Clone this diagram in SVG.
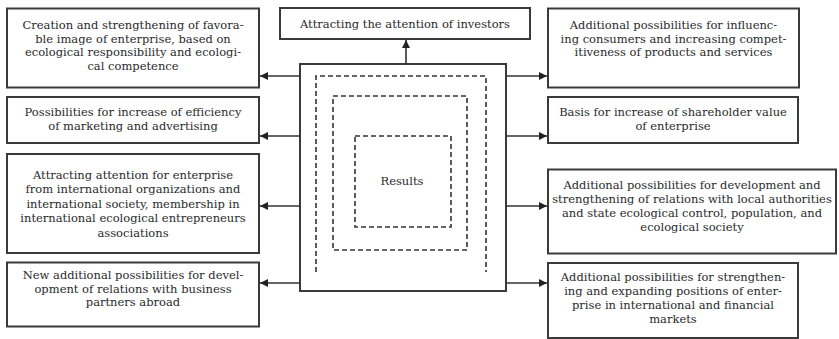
<svg xmlns="http://www.w3.org/2000/svg" width="839" height="339" viewBox="0 0 839 339">
<style>
.box{fill:#fff;stroke:#3a3a3a;stroke-width:2}
.dash{fill:none;stroke:#333;stroke-width:1.6;stroke-dasharray:5,3}
.ln{stroke:#333;stroke-width:1.6;fill:none}
text{font-family:"DejaVu Serif","Liberation Serif",serif;font-size:11.5px;fill:#2a2a2a;text-anchor:middle}
</style>
<defs>
<marker id="ah" viewBox="0 0 10 10" refX="10" refY="5" markerWidth="9" markerHeight="8" markerUnits="userSpaceOnUse" orient="auto">
<path d="M0,0 L10,5 L0,10 Z" fill="#222"/>
</marker>
</defs>
<rect width="839" height="339" fill="#fff"/>
<g id="center">
<rect class="box" x="300" y="64" width="206" height="227"/>
<path class="dash" d="M316,272 V76 H486 V272"/>
<rect class="dash" x="333" y="96" width="134" height="154"/>
<rect class="dash" x="355" y="136" width="96" height="91"/>
<text x="402" y="185">Results</text>
</g>
<g id="top">
<rect class="box" x="280" y="8" width="250" height="31"/>
<text x="405" y="28">Attracting the attention of investors</text>
</g>
<g id="left1">
<rect class="box" x="7" y="8.5" width="252" height="79"/>
<text x="133" y="29">Creation and strengthening of favora-</text>
<text x="133" y="42.5">ble image of enterprise, based on</text>
<text x="133" y="56">ecological responsibility and ecologi-</text>
<text x="133" y="69.5">cal competence</text>
</g>
<g id="left2">
<rect class="box" x="7" y="97" width="252" height="46"/>
<text x="133" y="115.5">Possibilities for increase of efficiency</text>
<text x="133" y="129.5">of marketing and advertising</text>
</g>
<g id="left3">
<rect class="box" x="7" y="154" width="252" height="99"/>
<text x="133" y="178.5">Attracting attention for enterprise</text>
<text x="133" y="193">from international organizations and</text>
<text x="133" y="207.5">international society, membership in</text>
<text x="133" y="222">international ecological entrepreneurs</text>
<text x="133" y="236.5">associations</text>
</g>
<g id="left4">
<rect class="box" x="7" y="262.5" width="252" height="64"/>
<text x="133" y="279">New additional possibilities for devel-</text>
<text x="133" y="292.5">opment of relations with business</text>
<text x="133" y="306">partners abroad</text>
</g>
<g id="right1">
<rect class="box" x="548" y="8.5" width="251" height="79"/>
<text x="673.5" y="29">Additional possibilities for influenc-</text>
<text x="673.5" y="42.5">ing consumers and increasing compet-</text>
<text x="673.5" y="56">itiveness of products and services</text>
</g>
<g id="right2">
<rect class="box" x="548" y="97" width="250" height="46"/>
<text x="673" y="115.5">Basis for increase of shareholder value</text>
<text x="673" y="129.5">of enterprise</text>
</g>
<g id="right3">
<rect class="box" x="548" y="169.5" width="288" height="84"/>
<text x="692" y="189">Additional possibilities for development and</text>
<text x="692" y="203">strengthening of relations with local authorities</text>
<text x="692" y="217">and state ecological control, population, and</text>
<text x="692" y="231">ecological society</text>
</g>
<g id="right4">
<rect class="box" x="548" y="263" width="250" height="75"/>
<text x="673" y="281">Additional possibilities for strengthen-</text>
<text x="673" y="295">ing and expanding positions of enter-</text>
<text x="673" y="309">prise in international and financial</text>
<text x="673" y="323">markets</text>
</g>
<g id="connectors">
<line class="ln" x1="406" y1="64" x2="406" y2="40" marker-end="url(#ah)"/>
<line class="ln" x1="300" y1="76" x2="260" y2="76" marker-end="url(#ah)"/>
<line class="ln" x1="300" y1="136" x2="260" y2="136" marker-end="url(#ah)"/>
<line class="ln" x1="300" y1="206" x2="260" y2="206" marker-end="url(#ah)"/>
<line class="ln" x1="300" y1="283" x2="260" y2="283" marker-end="url(#ah)"/>
<line class="ln" x1="506" y1="76" x2="547" y2="76" marker-end="url(#ah)"/>
<line class="ln" x1="506" y1="136" x2="547" y2="136" marker-end="url(#ah)"/>
<line class="ln" x1="506" y1="206" x2="547" y2="206" marker-end="url(#ah)"/>
<line class="ln" x1="506" y1="283" x2="547" y2="283" marker-end="url(#ah)"/>
</g>
</svg>
